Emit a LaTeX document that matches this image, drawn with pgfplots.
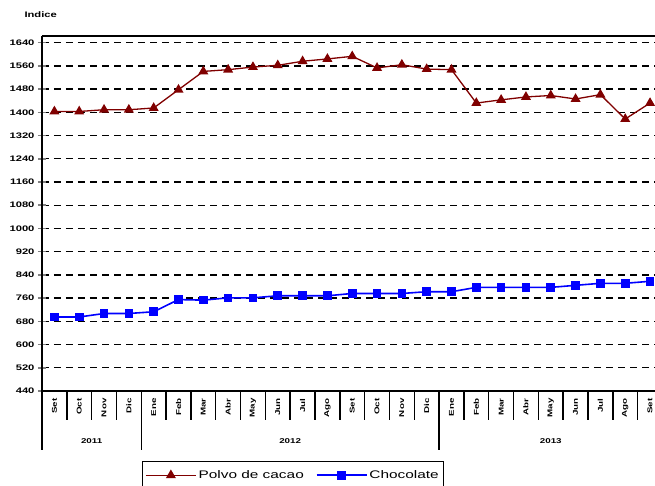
\documentclass[border=0pt]{standalone}
\usepackage{fontspec}
\setmainfont{Liberation Sans}[FakeStretch=1.4]
\usepackage{pgfplots}
\pgfplotsset{compat=1.18}
\definecolor{cacao}{RGB}{128,0,0}
\definecolor{choco}{RGB}{0,0,255}

\begin{document}
\begin{tikzpicture}
\path[use as bounding box] (-42pt,-95pt) rectangle (613pt,391pt);
\begin{axis}[
  at={(0,0)}, anchor=south west, scale only axis,
  width=613pt, height=355pt,
  xmin=-0.5, xmax=24.2, ymin=440, ymax=1663,
  clip=false,
  axis lines*=left,
  axis line style={line width=1.5pt, -},
  ytick={440,520,...,1640},
  /pgf/number format/assume math mode=true,
  yticklabel style={/pgf/number format/1000 sep={}, font=\bfseries\fontsize{8}{9}\selectfont},
  ytick style={line width=1.5pt},
  tick align=center,
  major tick length=8pt,
  ymajorgrids,
  major grid style={black, line width=1.4pt, dash pattern=on 7pt off 5pt},
  xtick={0,...,24},
  xticklabels={Set,Oct,Nov,Dic,Ene,Feb,Mar,Abr,May,Jun,Jul,Ago,Set,Oct,Nov,Dic,Ene,Feb,Mar,Abr,May,Jun,Jul,Ago,Set},
  xtick style={draw=none},
  xticklabel style={rotate=90, anchor=east, font=\bfseries\fontsize{7}{8}\selectfont},
  legend style={at={(0.4095,-0.1970)}, anchor=north, legend columns=2,
    draw=black, line width=1.2pt, font=\fontsize{11}{13}\selectfont,
    inner ysep=7pt,
    /tikz/every even column/.append style={column sep=10pt}},
  legend image code/.code={\draw[mark repeat=2,mark phase=2,#1] plot coordinates {(0pt,0pt) (25pt,0pt) (50pt,0pt)};},
]
\addplot[cacao, line width=1.3pt, mark=triangle*, mark size=4.5pt, mark options={solid}]
  coordinates {
  (0,1403) (1,1403) (2,1409) (3,1409) (4,1415) (5,1478) (6,1541) (7,1547)
  (8,1556) (9,1562) (10,1576) (11,1584) (12,1593) (13,1553) (14,1564) (15,1549)
  (16,1547) (17,1432) (18,1443) (19,1453) (20,1458) (21,1446) (22,1461) (23,1377)
  (24,1432)
  };
\addlegendentry{Polvo de cacao}
\addplot[choco, line width=1.6pt, mark=square*, mark size=3.5pt, mark options={solid}]
  coordinates {
  (0,695) (1,695) (2,707) (3,707) (4,713) (5,755) (6,753) (7,761)
  (8,761) (9,768) (10,768) (11,768) (12,776) (13,776) (14,776) (15,782)
  (16,782) (17,797) (18,797) (19,797) (20,797) (21,804) (22,811) (23,811)
  (24,818)
  };
\addlegendentry{Chocolate}
\draw[line width=1.5pt] (rel axis cs:0,1) -- (rel axis cs:1,1);
\pgfplotsinvokeforeach{0.5,1.5,2.5,4.5,5.5,6.5,7.5,8.5,9.5,10.5,11.5,12.5,13.5,14.5,16.5,17.5,18.5,19.5,20.5,21.5,22.5,23.5}{
  \draw[line width=1.5pt] (axis cs:#1,440) -- ++(0pt,-29pt);
}
\pgfplotsinvokeforeach{-0.5,3.5,15.5}{
  \draw[line width=1.5pt] (axis cs:#1,440) -- ++(0pt,-59pt);
}
\node[font=\bfseries\fontsize{7}{8}\selectfont] at (axis cs:1.5,440) [yshift=-50pt] {2011};
\node[font=\bfseries\fontsize{7}{8}\selectfont] at (axis cs:9.5,440) [yshift=-50pt] {2012};
\node[font=\bfseries\fontsize{7}{8}\selectfont] at (axis cs:20,440) [yshift=-50pt] {2013};
\end{axis}
\node[anchor=west, font=\bfseries\fontsize{8}{9}\selectfont] at (-21pt,376pt) {Indice};
\end{tikzpicture}
\end{document}
